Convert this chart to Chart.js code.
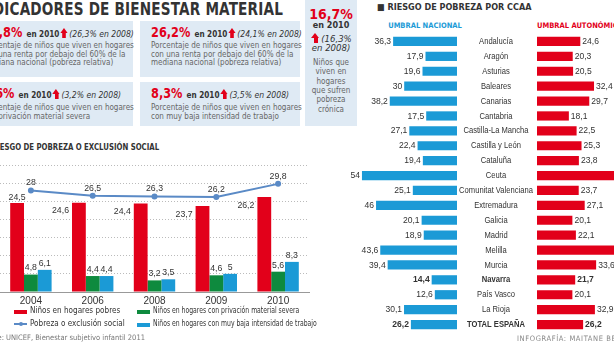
<!DOCTYPE html>
<html lang="es">
<head>
<meta charset="utf-8">
<script src="https://cdn.jsdelivr.net/npm/chart.js@4"></script>
<style>
  body { margin: 0; width: 614px; height: 343px; overflow: hidden; position: relative; background: #fff;
         font-family: "Liberation Sans Narrow", "DejaVu Sans Condensed", sans-serif; color: #333; }
  .abs { position: absolute; white-space: nowrap; }
  .title { right: 331px; top: -1px; font-weight: bold; font-size: 17px; color: #333; letter-spacing: 0.2px;
           transform: scaleX(0.89); transform-origin: right center; }
  .box { position: absolute; background: #dfeaf4; }
  .head { position: absolute; left: 11px; top: 4px; white-space: nowrap; line-height: 14px;
          transform: scaleX(0.9); transform-origin: left center; }
  .pct { color: #e2001a; font-weight: bold; font-size: 14px; }
  .en { font-weight: bold; font-size: 9px; }
  .was { font-style: italic; font-size: 9.5px; }
  .desc { position: absolute; left: 11px; font-size: 8px; line-height: 8.6px; color: #666; white-space: nowrap; }
  .arr { display: inline-block; position: relative; width: 9px; height: 10px; margin: 0 1px; vertical-align: -1px; }
  .arr::before { content: ""; position: absolute; left: 0; top: 0; border-left: 4.5px solid transparent;
                 border-right: 4.5px solid transparent; border-bottom: 5px solid #e2001a; }
  .arr::after { content: ""; position: absolute; left: 2.5px; top: 5px; width: 4px; height: 5px; background: #e2001a; }
  .side { text-align: center; width: 52px; left: 305px; top: 0; height: 126px; }
  .side div { line-height: 9.3px; }
  .sub { font-weight: bold; font-size: 9px; transform-origin: right center; }
  .legend { font-size: 8.5px; }
  .legend .c1 { transform: scaleX(0.95); transform-origin: left center; }
  .legend .c2 { transform: scaleX(0.8); transform-origin: left center; }
  .mk { position: absolute; width: 13px; height: 4px; }
  canvas { position: absolute; }
</style>
</head>
<body>
<div class="abs title">INDICADORES DE BIENESTAR MATERIAL</div>

<div class="box" style="left:-28px; top:21px; width:161px; height:56px;">
  <div class="head"><span class="pct">29,8%</span> <span class="en">en 2010</span><span class="arr"></span><span class="was">(26,3% en 2008)</span></div>
  <div class="desc" style="top:21px;">Porcentaje de niños que viven en hogares<br>con una renta por debajo del 60% de la<br>mediana nacional (pobreza relativa)</div>
</div>
<div class="box" style="left:140px; top:21px; width:160px; height:56px;">
  <div class="head"><span class="pct">26,2%</span> <span class="en">en 2010</span><span class="arr"></span><span class="was">(24,1% en 2008)</span></div>
  <div class="desc" style="top:21px;">Porcentaje de niños que viven en hogares<br>con una renta por debajo del 60% de la<br>mediana nacional (pobreza relativa)</div>
</div>
<div class="box" style="left:-28px; top:82px; width:161px; height:44px;">
  <div class="head"><span class="pct">5,6%</span> <span class="en">en 2010</span><span class="arr"></span><span class="was">(3,2% en 2008)</span></div>
  <div class="desc" style="top:22px;">Porcentaje de niños que viven en hogares<br>con privación material severa</div>
</div>
<div class="box" style="left:140px; top:82px; width:160px; height:44px;">
  <div class="head"><span class="pct">8,3%</span> <span class="en">en 2010</span><span class="arr"></span><span class="was">(3,5% en 2008)</span></div>
  <div class="desc" style="top:22px;">Porcentaje de niños que viven en hogares<br>con muy baja intensidad de trabajo</div>
</div>
<div class="box side">
  <div style="margin-top:9px;"><span class="pct">16,7%</span></div>
  <div class="en" style="margin-top:2px;">en 2010</div>
  <div class="was" style="margin-top:2px;"><span class="arr"></span>(16,3%</div>
  <div class="was">en 2008)</div>
  <div style="margin-top:6px; font-size:8px; color:#666;">Niños que<br>viven en<br>hogares<br>que sufren<br>pobreza<br>crónica</div>
</div>

<div class="abs sub" style="right:455px; top:142px; transform:scaleX(0.86);">■ RIESGO DE POBREZA O EXCLUSIÓN SOCIAL</div>
<canvas id="evol" width="321" height="151" style="left:-6px; top:159px;"></canvas>

<div class="abs legend" style="left:0; top:305px; width:330px; height:26px;">
  <div class="mk" style="left:14px; top:5px; background:#e2001a;"></div>
  <div class="abs c1" style="left:30px; top:0;">Niños en hogares pobres</div>
  <div class="mk" style="left:137px; top:5px; background:#0e8a3e;"></div>
  <div class="abs c2" style="left:153px; top:0;">Niños en hogares con privación material severa</div>
  <div class="mk" style="left:14px; top:18px; height:2px; background:#5a8ac6;"></div>
  <div class="mk" style="left:19px; top:17px; width:4px; height:4px; border-radius:2px; background:#5a8ac6;"></div>
  <div class="abs c1" style="left:30px; top:13px;">Pobreza o exclusión social</div>
  <div class="mk" style="left:137px; top:18px; background:#1b9ad6;"></div>
  <div class="abs c2" style="left:153px; top:13px;">Niños en hogares con muy baja intensidad de trabajo</div>
</div>
<div class="abs" style="right:469px; top:333px; font-size:7.5px; color:#777;">Fuente: UNICEF, Bienestar subjetivo infantil 2011</div>

<div class="abs sub" style="left:377px; top:2px;">■ RIESGO DE POBREZA POR CCAA</div>
<div class="abs" style="left:425px; top:21px; transform:translateX(-50%); font-size:7.5px; font-weight:bold; color:#1b9ad6;">UMBRAL NACIONAL</div>
<div class="abs" style="left:537px; top:21px; font-size:7.5px; font-weight:bold; color:#e2001a;">UMBRAL AUTONÓMICO</div>
<canvas id="nac" width="117" height="298" style="left:340px; top:34px;"></canvas>
<canvas id="aut" width="219" height="298" style="left:455px; top:34px;"></canvas>
<div class="abs" style="left:517px; top:334px; font-size:7.5px; letter-spacing:0.6px; color:#888;">INFOGRAFÍA: MAITANE BERGARA</div>

<script>
// Evolución 2004-2010
const years = ['2004', '2006', '2008', '2009', '2010'];
const pobres = [24.5, 24.6, 24.4, 23.7, 26.2];
const privacion = [4.8, 4.4, 3.2, 4.6, 5.6];
const bajaIntensidad = [6.1, 4.4, 3.5, 5, 8.3];
const exclusion = [28, 26.5, 26.3, 26.2, 29.8];

// Riesgo de pobreza por comunidad autónoma
const ccaa = ['Andalucía', 'Aragón', 'Asturias', 'Baleares', 'Canarias', 'Cantabria', 'Castilla-La Mancha',
  'Castilla y León', 'Cataluña', 'Ceuta', 'Comunitat Valenciana', 'Extremadura', 'Galicia', 'Madrid',
  'Melilla', 'Murcia', 'Navarra', 'País Vasco', 'La Rioja', 'TOTAL ESPAÑA'];
const umbralNacional = [36.3, 17.9, 19.6, 30, 38.2, 17.5, 27.1, 22.4, 19.4, 54, 25.1, 46, 20.1, 18.9, 43.6, 39.4, 14.4, 12.6, 30.1, 26.2];
const umbralAutonomico = [24.6, 20.3, 20.5, 32.4, 29.7, 18.1, 22.5, 25.3, 23.8, 48, 23.7, 27.1, 20.1, 22.1, 47, 33.6, 21.7, 20.1, 32.9, 26.2];
const destacadas = ['Navarra', 'TOTAL ESPAÑA'];

const RED = '#e2001a', GREEN = '#0e8a3e', BLUE = '#1b9ad6', LINE = '#5a8ac6';
const FONT = '"Liberation Sans Narrow", sans-serif';
const fmt = v => String(v).replace('.', ',');

// texto algo más estrecho que la fuente
function narrowText(ctx, text, x, y, k) {
  ctx.save();
  ctx.translate(x, y);
  ctx.scale(k, 1);
  ctx.fillText(text, 0, 0);
  ctx.restore();
}

// etiquetas de valor del gráfico de evolución
const evolLabels = {
  id: 'evolLabels',
  afterDatasetsDraw(chart) {
    const ctx = chart.ctx;
    ctx.save();
    ctx.font = '9.5px ' + FONT;
    ctx.fillStyle = '#333';
    chart.data.datasets.forEach((ds, di) => {
      const meta = chart.getDatasetMeta(di);
      meta.data.forEach((el, i) => {
        const v = ds.data[i];
        if (ds.type === 'line') {
          ctx.textAlign = 'center'; ctx.textBaseline = 'bottom';
          narrowText(ctx, fmt(v), el.x, el.y - 3, 0.92);
        } else if (di === 1) {
          if (i === 0) {
            ctx.textAlign = 'center'; ctx.textBaseline = 'bottom';
            narrowText(ctx, fmt(v), el.x, el.y - 1, 0.92);
          } else {
            ctx.textAlign = 'right'; ctx.textBaseline = 'middle';
            narrowText(ctx, fmt(v), el.x - el.width / 2 - 3, el.y + 8, 0.92);
          }
        } else {
          ctx.textAlign = 'center'; ctx.textBaseline = 'bottom';
          narrowText(ctx, fmt(v), el.x, el.y - 2, 0.92);
        }
      });
    });
    ctx.restore();
  }
};

new Chart(document.getElementById('evol'), {
  type: 'bar',
  data: {
    labels: years,
    datasets: [
      { type: 'line', data: exclusion, borderColor: LINE, backgroundColor: LINE, borderWidth: 2,
        pointRadius: 2, pointBackgroundColor: LINE, tension: 0, order: 0 },
      { data: pobres, backgroundColor: RED, order: 1 },
      { data: privacion, backgroundColor: GREEN, order: 1 },
      { data: bajaIntensidad, backgroundColor: BLUE, order: 1 }
    ]
  },
  options: {
    responsive: false,
    animation: false,
    layout: { padding: 0 },
    datasets: { bar: { categoryPercentage: 0.67, barPercentage: 1 } },
    plugins: { legend: { display: false }, tooltip: { enabled: false } },
    scales: {
      x: {
        grid: { display: false, drawTicks: false },
        border: { display: true, color: '#999' },
        ticks: { color: '#333', font: { family: FONT, size: 10 }, padding: 3 },
        afterFit: s => { s.height = 18; }
      },
      y: {
        min: 0, max: 35,
        ticks: { display: false, stepSize: 5 },
        grid: { color: '#bbb', drawTicks: false },
        border: { display: false, dash: [1, 2] },
        afterFit: s => { s.width = 0; }
      }
    }
  },
  plugins: [evolLabels]
});

// etiquetas de los gráficos por comunidad
function ccaaLabels(side) {
  return {
    id: 'ccaaLabels' + side,
    afterDatasetsDraw(chart) {
      const ctx = chart.ctx;
      const meta = chart.getDatasetMeta(0);
      ctx.save();
      ctx.fillStyle = '#333';
      ctx.textBaseline = 'middle';
      meta.data.forEach((el, i) => {
        const bold = destacadas.includes(ccaa[i]) ? 'bold ' : '';
        ctx.font = bold + '9.5px ' + FONT;
        const v = chart.data.datasets[0].data[i];
        if (side === 'left') {
          ctx.textAlign = 'right';
          narrowText(ctx, fmt(v), el.x - 2, el.y, 0.9);
        } else {
          ctx.textAlign = 'left';
          narrowText(ctx, fmt(v), el.x + 2, el.y, 0.9);
          ctx.textAlign = 'center';
          narrowText(ctx, ccaa[i], chart.chartArea.left - 41, el.y, 0.8);
        }
      });
      ctx.restore();
    }
  };
}

function ccaaChart(id, values, color, reverse, max, padLeft) {
  return new Chart(document.getElementById(id), {
    type: 'bar',
    data: { labels: ccaa, datasets: [{ data: values, backgroundColor: color }] },
    options: {
      indexAxis: 'y',
      responsive: false,
      animation: false,
      layout: { padding: { left: padLeft, right: 0, top: 0, bottom: 0 } },
      datasets: { bar: { categoryPercentage: 0.62, barPercentage: 1 } },
      plugins: { legend: { display: false }, tooltip: { enabled: false } },
      scales: {
        x: { display: false, min: 0, max: max, reverse: reverse },
        y: { display: false }
      }
    },
    plugins: [ccaaLabels(reverse ? 'left' : 'right')]
  });
}

ccaaChart('nac', umbralNacional, BLUE, true, 117 / 1.76, 0);
ccaaChart('aut', umbralAutonomico, RED, false, 137 / 1.76, 82);
</script>
</body>
</html>
